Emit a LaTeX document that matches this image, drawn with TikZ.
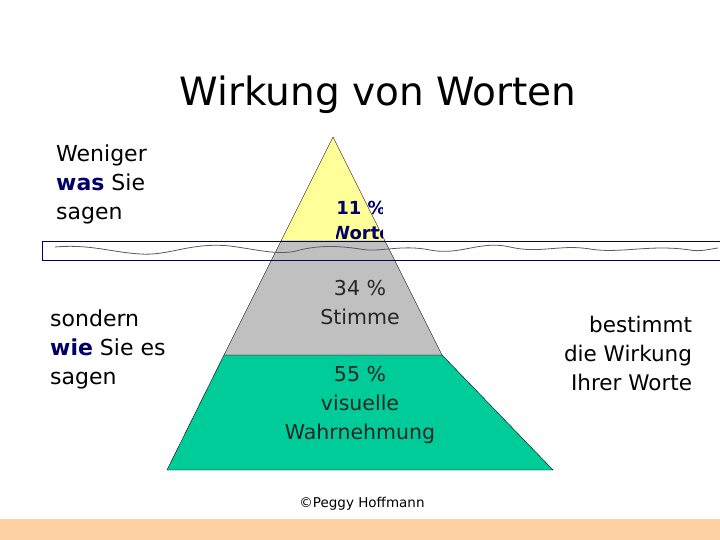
\documentclass[tikz,border=0pt]{standalone}
\usepackage{fontspec}
\setmainfont{DejaVu Sans}
\begin{document}
\begin{tikzpicture}[x=1pt,y=-1pt,
 txt/.style={font=\fontsize{22}{29}\selectfont,align=left,anchor=north west,inner sep=0pt},
 ptxt/.style={font=\fontsize{20.5}{29}\selectfont,align=center,text=black!85},
 blu/.style={text=blue!40!black}]
\useasboundingbox (0,0) rectangle (720,540);
\fill[fill=orange!35] (0,519) rectangle (720,540);
\node (title) at (378,95) {\fontsize{39}{44}\selectfont Wirkung von Worten};
\filldraw[fill={rgb,255:red,0;green,204;blue,153}, draw=black] (224,355) -- (442,355) -- (553,470) -- (167,470) -- cycle;
\filldraw[fill={rgb,255:red,192;green,192;blue,192}, draw=black] (281,241) -- (385,241) -- (442,355) -- (224,355) -- cycle;
\filldraw[fill={rgb,255:red,255;green,255;blue,153}, draw=black] (333,137) -- (385,241) -- (281,241) -- cycle;
\begin{scope}
\clip (336,190) rectangle (382,241);
\node[font=\bfseries\fontsize{18}{25}\selectfont,blu,align=center,anchor=north] (w11) at (361,198) {11 \%\\Worte};
\end{scope}
\draw[draw=blue!40!black] (42,241) rectangle (722,260);
\draw[gray!70!black,thick] (55,247) .. controls (90,244) and (110,252) .. (140,254) .. controls (170,256) and (190,242) .. (230,246) .. controls (260,250) and (280,256) .. (300,250) .. controls (320,245) and (340,246) .. (360,249) .. controls (380,253) and (400,244) .. (430,250) .. controls (460,256) and (480,240) .. (510,247) .. controls (540,254) and (560,244) .. (590,249) .. controls (620,254) and (650,244) .. (690,250) .. controls (700,252) and (710,249) .. (718,248);
\node[ptxt] (s34) at (360,303) {34 \%\\Stimme};
\node[ptxt] (v55) at (360,405) {55 \%\\visuelle\\Wahrnehmung};
\node[txt] (wen) at (56,145) {Weniger\\{\bfseries\color{blue!40!black}was} Sie\\sagen};
\node[txt] (son) at (50,310) {sondern\\{\bfseries\color{blue!40!black}wie} Sie es\\sagen};
\node[font=\fontsize{21.5}{29}\selectfont,align=right] (bes) at (628,353) {bestimmt\\die Wirkung\\Ihrer Worte};
\node[font=\fontsize{13.5}{16}\selectfont] (copy) at (362,504) {©Peggy Hoffmann};
\end{tikzpicture}
\end{document}
